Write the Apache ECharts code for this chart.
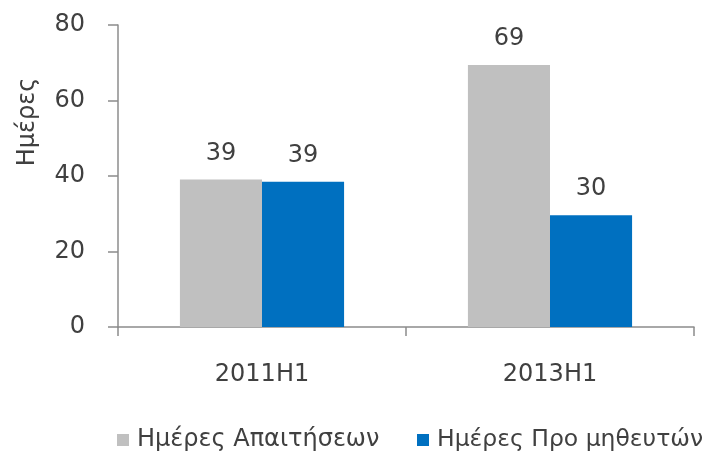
<!DOCTYPE html>
<html>
<head>
<meta charset="utf-8">
<script src="https://cdn.jsdelivr.net/npm/echarts@6/dist/echarts.min.js"></script>
<style>
  html, body { margin: 0; padding: 0; background: #fff; }
  #chart { width: 716px; height: 456px; }
</style>
</head>
<body>
<div id="chart"></div>
<script>
var categories = ['2011H1', '2013H1'];
var receivableDays = [39.1, 69.4];
var payableDays = [38.5, 29.6];
var seriesNames = ['Ημέρες Απαιτήσεων', 'Ημέρες Προ μηθευτών'];
var yTicks = [0, 20, 40, 60, 80];

var font = 'DejaVu Sans';
var textColor = '#404040';
var axisColor = '#8c8c8c';

var chart = echarts.init(document.getElementById('chart'));

// one legend block per series so each sits where the reference puts it
function legendAt(left, name, size) {
  return {
    left: left,
    top: 428,
    padding: 0,
    itemWidth: 12,
    itemHeight: 12,
    icon: 'rect',
    textStyle: { fontFamily: font, fontSize: size, color: textColor, padding: [0, 0, 0, 3] },
    data: [name]
  };
}

var option = {
  animation: false,
  textStyle: { fontFamily: font },
  grid: { left: 118, right: 22, top: 25, bottom: 129 },
  legend: [legendAt(117, seriesNames[0], 24), legendAt(417, seriesNames[1], 23.5)],
  graphic: [{
    type: 'text',
    x: 28,
    y: 122,
    rotation: Math.PI / 2,
    style: {
      text: 'Ημέρες',
      font: '24px ' + font,
      fill: textColor,
      align: 'center',
      verticalAlign: 'middle'
    }
  }],
  xAxis: {
    type: 'category',
    data: categories,
    axisLine: { lineStyle: { color: axisColor, width: 1.5 } },
    axisTick: { show: true, length: 9, lineStyle: { color: axisColor, width: 1.5 } },
    axisLabel: { margin: 36, fontSize: 24, color: textColor, fontFamily: font }
  },
  yAxis: {
    type: 'value',
    min: yTicks[0],
    max: yTicks[yTicks.length - 1],
    interval: yTicks[1] - yTicks[0],
    splitLine: { show: false },
    axisLine: { show: true, lineStyle: { color: axisColor, width: 1.5 } },
    axisTick: { show: true, length: 10, lineStyle: { color: axisColor, width: 1.5 } },
    axisLabel: { margin: 33, fontSize: 24, color: textColor, fontFamily: font }
  },
  series: [{
    name: seriesNames[0],
    type: 'bar',
    data: receivableDays,
    itemStyle: { color: '#c0c0c0' },
    barGap: '0%',
    barCategoryGap: '43%',
    label: {
      show: true, position: 'top', distance: 14,
      fontSize: 24, color: textColor, fontFamily: font,
      formatter: function (p) { return Math.round(p.value); }
    }
  }, {
    name: seriesNames[1],
    type: 'bar',
    data: payableDays,
    itemStyle: { color: '#0070c0' },
    barGap: '0%',
    barCategoryGap: '43%',
    label: {
      show: true, position: 'top', distance: 14,
      fontSize: 24, color: textColor, fontFamily: font,
      formatter: function (p) { return Math.round(p.value); }
    }
  }]
};

chart.setOption(option);
</script>
</body>
</html>
